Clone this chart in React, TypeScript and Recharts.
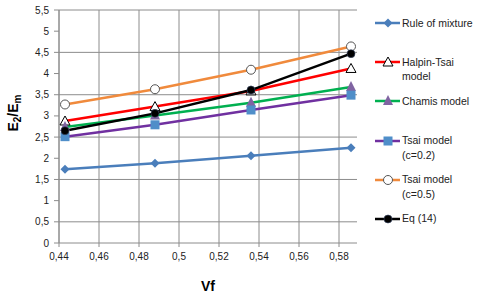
import { LineChart, Line, XAxis, YAxis, CartesianGrid } from 'recharts';

const vf = [0.443, 0.488, 0.536, 0.586];
const ruleOfMixture = [1.74, 1.88, 2.06, 2.25];
const halpinTsai = [2.88, 3.22, 3.59, 4.12];
const chamis = [2.74, 3.01, 3.31, 3.68];
const tsai02 = [2.51, 2.79, 3.14, 3.49];
const tsai05 = [3.27, 3.63, 4.09, 4.64];
const eq14 = [2.65, 3.06, 3.61, 4.47];
const seriesNames = ['Rule of mixture', 'Halpin-Tsai model', 'Chamis model', 'Tsai model (c=0.2)', 'Tsai model (c=0.5)', 'Eq (14)'];
const xTicks = [0.44, 0.46, 0.48, 0.5, 0.52, 0.54, 0.56, 0.58];
const yTicks = [0, 0.5, 1, 1.5, 2, 2.5, 3, 3.5, 4, 4.5, 5, 5.5];

const FONT = '"Liberation Sans", Arial, sans-serif';
const GRID = '#8c8c8c';

type Shape = 'diamond' | 'triOpen' | 'tri' | 'square' | 'circleOpen' | 'dot';

const Marker = ({ cx, cy, shape, color }: { cx: number; cy: number; shape: Shape; color: string }) => {
  if (cx == null || cy == null) return null;
  switch (shape) {
    case 'diamond':
      return <path d={`M${cx},${cy - 4.5}L${cx + 4.5},${cy}L${cx},${cy + 4.5}L${cx - 4.5},${cy}Z`} fill={color} />;
    case 'triOpen':
      return <path d={`M${cx},${cy - 5}L${cx + 5},${cy + 4}L${cx - 5},${cy + 4}Z`} fill="#fff" stroke="#000" strokeWidth={1} />;
    case 'tri':
      return <path d={`M${cx},${cy - 6}L${cx + 5},${cy + 4}L${cx - 5},${cy + 4}Z`} fill={color} />;
    case 'square':
      return <rect x={cx - 4.5} y={cy - 4.5} width={9} height={9} fill={color} />;
    case 'circleOpen':
      return <circle cx={cx} cy={cy} r={4.5} fill="#fff" stroke="#555" strokeWidth={1} />;
    default:
      return <circle cx={cx} cy={cy} r={4} fill="#000" stroke="#3a4a6a" strokeWidth={0.6} />;
  }
};

const styles: { key: string; values: number[]; stroke: string; shape: Shape; markerColor: string }[] = [
  { key: 's0', values: ruleOfMixture, stroke: '#4a7ebb', shape: 'diamond', markerColor: '#4a7ebb' },
  { key: 's1', values: halpinTsai, stroke: '#ff0000', shape: 'triOpen', markerColor: '#000' },
  { key: 's2', values: chamis, stroke: '#00b050', shape: 'tri', markerColor: '#8064a2' },
  { key: 's3', values: tsai02, stroke: '#7030a0', shape: 'square', markerColor: '#4f8ec9' },
  { key: 's4', values: tsai05, stroke: '#f08a3c', shape: 'circleOpen', markerColor: '#555' },
  { key: 's5', values: eq14, stroke: '#000000', shape: 'dot', markerColor: '#000' },
];

const data = vf.map((x, i) => {
  const row: Record<string, number> = { x };
  styles.forEach((s) => { row[s.key] = s.values[i]; });
  return row;
});

const comma = (v: number) => String(v).replace('.', ',');

const YLabel = () => (
  <text x={18} y={113} transform="rotate(-90 18 113)" textAnchor="middle" fontFamily={FONT} fontWeight="bold" fontSize={14} fill="#000">
    E<tspan dy={3} fontSize={10}>2</tspan><tspan dy={-3}>/E</tspan><tspan dy={3} fontSize={10}>m</tspan>
  </text>
);

const App = () => {
  return (
    <div style={{ position: 'absolute', left: 0, top: 0, width: 480, height: 294, background: '#fff' }}>
      <LineChart width={480} height={294} data={data} margin={{ top: 10, right: 123, bottom: 0, left: 0 }}>
        <CartesianGrid stroke={GRID} strokeWidth={1} horizontalValues={yTicks} verticalValues={xTicks} />
        <XAxis
          dataKey="x"
          type="number"
          height={51}
          domain={[0.44, 0.589]}
          ticks={xTicks}
          allowDataOverflow
          tickFormatter={comma}
          stroke={GRID}
          tickSize={4}
          tickMargin={6}
          tick={{ fill: '#222', fontSize: 10, fontFamily: FONT }}
          label={{ value: 'Vf', position: 'insideBottom', offset: 3, style: { fontWeight: 'bold', fontSize: 14, fill: '#000', fontFamily: FONT } }}
        />
        <YAxis
          type="number"
          width={59}
          domain={[0, 5.5]}
          ticks={yTicks}
          tickFormatter={comma}
          stroke={GRID}
          tickSize={5}
          tickMargin={5}
          tick={{ fill: '#222', fontSize: 10, fontFamily: FONT }}
          label={{ content: () => <YLabel /> }}
        />
        {styles.map((s) => (
          <Line
            key={s.key}
            dataKey={s.key}
            type="linear"
            stroke={s.stroke}
            strokeWidth={2.5}
            isAnimationActive={false}
            dot={(p: any) => <Marker key={`${s.key}-${p.index}`} cx={p.cx} cy={p.cy} shape={s.shape} color={s.markerColor} />}
            activeDot={false}
          />
        ))}
      </LineChart>
      <div style={{ position: 'absolute', left: 374, top: 16, fontFamily: FONT, fontSize: 10.5, color: '#222' }}>
        {styles.map((s, i) => (
          <div key={s.key} style={{ display: 'flex', alignItems: 'flex-start', height: 39.2 }}>
            <svg width={28} height={14} style={{ flex: 'none' }}>
              <line x1={1} y1={7} x2={26} y2={7} stroke={s.stroke} strokeWidth={2.5} />
              <Marker cx={14} cy={7} shape={s.shape} color={s.markerColor} />
            </svg>
            <div style={{ width: 76, lineHeight: '14.5px', marginTop: -0.5 }}>{seriesNames[i]}</div>
          </div>
        ))}
      </div>
    </div>
  );
};

export default App;
